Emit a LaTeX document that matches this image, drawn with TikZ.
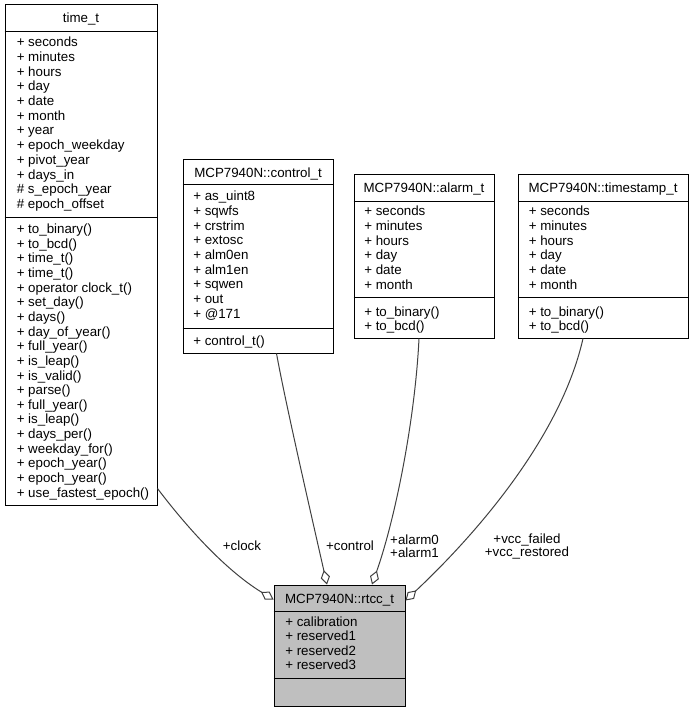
\documentclass[tikz,border=0pt]{standalone}
\usepackage{fontspec}
\setmainfont{Liberation Sans}
\usetikzlibrary{arrows.meta,calc,fit}
\definecolor{edgegray}{HTML}{404040}
\definecolor{curfill}{HTML}{BFBFBF}
\begin{document}
\begin{tikzpicture}[x=0.75pt,y=-0.75pt,
  classbox/.style={draw=black, line width=0.75pt, inner sep=0pt, fill=white},
  curbox/.style={classbox, fill=curfill},
  sepline/.style={draw=black, line width=0.75pt},
  ctitle/.style={anchor=base, inner sep=0pt, font=\fontsize{10}{11}\selectfont},
  mem/.style={anchor=base west, inner sep=0pt, font=\fontsize{10}{11}\selectfont},
  elbl/.style={align=center, inner sep=0pt, font=\fontsize{10}{10}\selectfont},
  conn/.style={draw=edgegray, line width=0.75pt, -{Diamond[open, length=11pt, width=7pt]}},
]
\useasboundingbox (0,0) rectangle (695,712);

% ---------- time_t ----------
\node[classbox, fit={(5,5) (157,505)}] (timet) {};
\draw[sepline] ($(timet.north west)+(0,27)$) -- ($(timet.north east)+(0,27)$);
\draw[sepline] ($(timet.north west)+(0,213)$) -- ($(timet.north east)+(0,213)$);
\node[ctitle] (timet-name) at (81,23) {time\_t};
\foreach \s [count=\i] in {+ seconds, + minutes, + hours, + day, + date, + month, + year, + epoch\_weekday, + pivot\_year, + days\_in, \# s\_epoch\_year, \# epoch\_offset}
  \node[mem] (timet-a\i) at (16.5,{46.8+14.7*(\i-1)}) {\s};
\foreach \s [count=\i] in {+ to\_binary(), + to\_bcd(), + time\_t(), + time\_t(), + operator clock\_t(), + set\_day(), + days(), + day\_of\_year(), + full\_year(), + is\_leap(), + is\_valid(), + parse(), + full\_year(), + is\_leap(), + days\_per(), + weekday\_for(), + epoch\_year(), + epoch\_year(), + use\_fastest\_epoch()}
  \node[mem] (timet-m\i) at (16.5,{233.5+14.65*(\i-1)}) {\s};

% ---------- control_t ----------
\node[classbox, fit={(183,160) (333,353)}] (controlt) {};
\draw[sepline] ($(controlt.north west)+(0,25.5)$) -- ($(controlt.north east)+(0,25.5)$);
\draw[sepline] ($(controlt.north west)+(0,168.5)$) -- ($(controlt.north east)+(0,168.5)$);
\node[ctitle] (controlt-name) at (258,177.5) {MCP7940N::control\_t};
\foreach \s [count=\i] in {+ as\_uint8, + sqwfs, + crstrim, + extosc, + alm0en, + alm1en, + sqwen, + out, + @171}
  \node[mem] (controlt-a\i) at (193,{200.8+14.7*(\i-1)}) {\s};
\node[mem] (controlt-m1) at (193,345) {+ control\_t()};

% ---------- alarm_t ----------
\node[classbox, fit={(354,175) (494,338)}] (alarmt) {};
\draw[sepline] ($(alarmt.north west)+(0,26.7)$) -- ($(alarmt.north east)+(0,26.7)$);
\draw[sepline] ($(alarmt.north west)+(0,123.3)$) -- ($(alarmt.north east)+(0,123.3)$);
\node[ctitle] (alarmt-name) at (424,193) {MCP7940N::alarm\_t};
\foreach \s [count=\i] in {+ seconds, + minutes, + hours, + day, + date, + month}
  \node[mem] (alarmt-a\i) at (364,{216+14.66*(\i-1)}) {\s};
\node[mem] (alarmt-m1) at (364,316) {+ to\_binary()};
\node[mem] (alarmt-m2) at (364,330.5) {+ to\_bcd()};

% ---------- timestamp_t ----------
\node[classbox, fit={(518,175) (688,338)}] (timestampt) {};
\draw[sepline] ($(timestampt.north west)+(0,26.7)$) -- ($(timestampt.north east)+(0,26.7)$);
\draw[sepline] ($(timestampt.north west)+(0,123.3)$) -- ($(timestampt.north east)+(0,123.3)$);
\node[ctitle] (timestampt-name) at (603,193) {MCP7940N::timestamp\_t};
\foreach \s [count=\i] in {+ seconds, + minutes, + hours, + day, + date, + month}
  \node[mem] (timestampt-a\i) at (528.5,{216+14.66*(\i-1)}) {\s};
\node[mem] (timestampt-m1) at (528.5,316) {+ to\_binary()};
\node[mem] (timestampt-m2) at (528.5,330.5) {+ to\_bcd()};

% ---------- rtcc_t ----------
\node[curbox, fit={(274,585) (405,706)}] (rtcc) {};
\draw[sepline] ($(rtcc.north west)+(0,26.7)$) -- ($(rtcc.north east)+(0,26.7)$);
\draw[sepline] ($(rtcc.north west)+(0,94.3)$) -- ($(rtcc.north east)+(0,94.3)$);
\node[ctitle] (rtcc-name) at (339.5,603) {MCP7940N::rtcc\_t};
\foreach \s [count=\i] in {+ calibration, + reserved1, + reserved2, + reserved3}
  \node[mem] (rtcc-a\i) at (285,{626+14.66*(\i-1)}) {\s};

% ---------- connectors ----------
\draw[conn] ($(timet.south east)+(0,-17)$) .. controls +(28,37) and +(-49,-30) .. ($(rtcc.north west)+(0,15)$);
\draw[conn] ($(controlt.south)+(18.5,0)$) .. controls +(8.5,47) and +(-17,-75) .. ($(rtcc.north)+(-12.5,0)$);
\draw[conn] ($(alarmt.south)+(-5,0)$) .. controls +(-4,82) and +(23,-65) .. ($(rtcc.north)+(32.5,0)$);
\draw[conn] ($(timestampt.south)+(-20,0)$) .. controls +(-23,102) and +(65,-61) .. ($(rtcc.north east)+(0,16)$);

% ---------- connector labels ----------
\node[elbl] (lbl-clock) at (242,546) {+clock};
\node[elbl] (lbl-control) at (350,546) {+control};
\node[elbl] (lbl-alarm) at (414.5,546) {+alarm0\\+alarm1};
\node[elbl] (lbl-vcc) at (527,546.5) {+vcc\_failed\\+vcc\_restored};
\end{tikzpicture}
\end{document}
